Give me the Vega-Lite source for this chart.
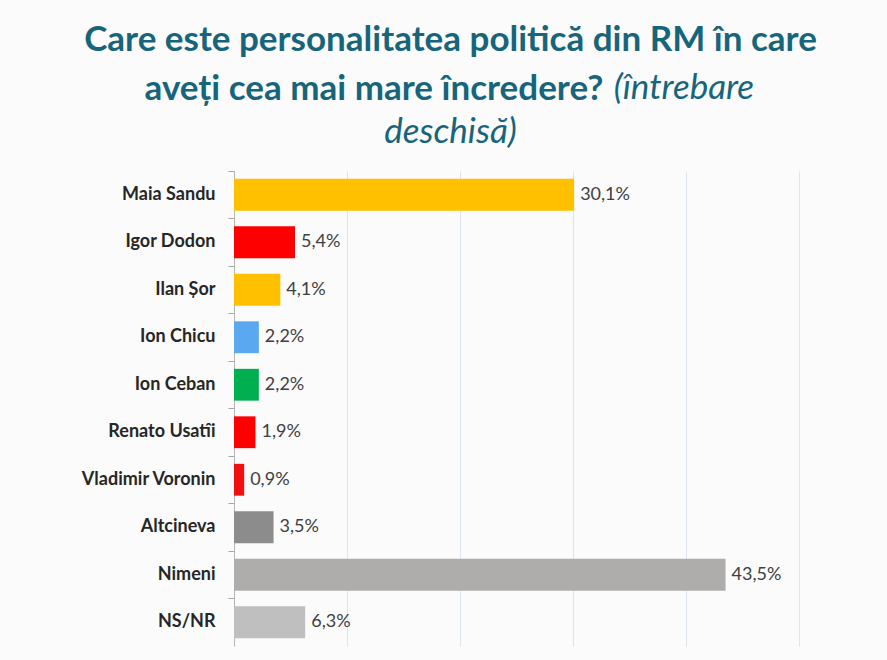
{
  "$schema": "https://vega.github.io/schema/vega-lite/v6.json",
  "autosize": {"type": "none"},
  "width": 565,
  "height": 475,
  "padding": {"left": 234, "top": 171, "right": 88, "bottom": 14},
  "background": "#fbfbfc",
  "title": {
    "text": ["Care este personalitatea politică din RM în care", "aveți cea mai mare încredere?\u00a0\u00a0\u00a0\u00a0\u00a0\u00a0\u00a0\u00a0\u00a0\u00a0\u00a0\u00a0\u00a0\u00a0\u00a0\u00a0\u00a0\u00a0\u200b"],
    "subtitle": ["\u200b\u00a0\u00a0\u00a0\u00a0\u00a0\u00a0\u00a0\u00a0\u00a0\u00a0\u00a0\u00a0\u00a0\u00a0\u00a0\u00a0\u00a0\u00a0\u00a0\u00a0\u00a0\u00a0\u00a0\u00a0\u00a0\u00a0\u00a0\u00a0\u00a0\u00a0\u00a0\u00a0\u00a0\u00a0\u00a0\u00a0\u00a0\u00a0\u00a0\u00a0\u00a0\u00a0\u00a0\u00a0\u00a0\u00a0\u00a0\u00a0\u00a0\u00a0\u00a0\u00a0\u00a0\u00a0\u00a0\u00a0\u00a0(întrebare", "deschisă)"],
    "anchor": "middle",
    "dx": -66,
    "offset": 21,
    "font": "Lato",
    "fontSize": 35,
    "fontWeight": "bold",
    "color": "#17657a",
    "lineHeight": 49,
    "subtitleFont": "Lato",
    "subtitleFontSize": 35,
    "subtitleFontStyle": "italic",
    "subtitleFontWeight": "normal",
    "subtitleColor": "#17657a",
    "subtitleLineHeight": 44,
    "subtitlePadding": -36
  },
  "data": {
    "values": [
      {"name": "Maia Sandu", "value": 0.301},
      {"name": "Igor Dodon", "value": 0.054},
      {"name": "Ilan Șor", "value": 0.041},
      {"name": "Ion Chicu", "value": 0.022},
      {"name": "Ion Ceban", "value": 0.022},
      {"name": "Renato Usatîi", "value": 0.019},
      {"name": "Vladimir Voronin", "value": 0.009},
      {"name": "Altcineva", "value": 0.035},
      {"name": "Nimeni", "value": 0.435},
      {"name": "NS/NR", "value": 0.063}
    ]
  },
  "encoding": {
    "y": {
      "field": "name",
      "type": "nominal",
      "sort": null,
      "scale": {"paddingInner": 0, "paddingOuter": 0},
      "axis": {
        "title": null,
        "labelFont": "Lato",
        "labelFontSize": 18,
        "labelFontWeight": "bold",
        "labelColor": "#262626",
        "labelPadding": 13,
        "tickSize": 6,
        "tickColor": "#a6a6a6",
        "domainColor": "#b5b5b5",
        "bandPosition": 0,
        "grid": false
      }
    },
    "x": {
      "field": "value",
      "type": "quantitative",
      "scale": {"domain": [0, 0.5]},
      "axis": {
        "title": null,
        "values": [0, 0.1, 0.2, 0.3, 0.4, 0.5],
        "grid": true,
        "gridColor": "#dde4ee",
        "labels": false,
        "ticks": false,
        "domain": false
      }
    }
  },
  "layer": [
    {
      "mark": {"type": "bar", "height": {"band": 0.67}},
      "encoding": {
        "color": {
          "field": "name",
          "type": "nominal",
          "scale": {
            "domain": ["Maia Sandu", "Igor Dodon", "Ilan Șor", "Ion Chicu", "Ion Ceban", "Renato Usatîi", "Vladimir Voronin", "Altcineva", "Nimeni", "NS/NR"],
            "range": ["#ffc000", "#ff0000", "#ffc000", "#5aa9f0", "#00b050", "#ff0000", "#f01010", "#8c8c8c", "#afacac", "#bfbfbf"]
          },
          "legend": null
        }
      }
    },
    {
      "mark": {"type": "text", "align": "left", "dx": 6, "font": "Lato", "fontSize": 18, "color": "#404040"},
      "encoding": {
        "text": {"field": "value", "type": "quantitative", "format": ".1%"}
      }
    }
  ],
  "config": {
    "locale": {"number": {"decimal": ",", "thousands": ".", "grouping": [3], "currency": ["", " €"]}},
    "view": {"stroke": null}
  }
}
